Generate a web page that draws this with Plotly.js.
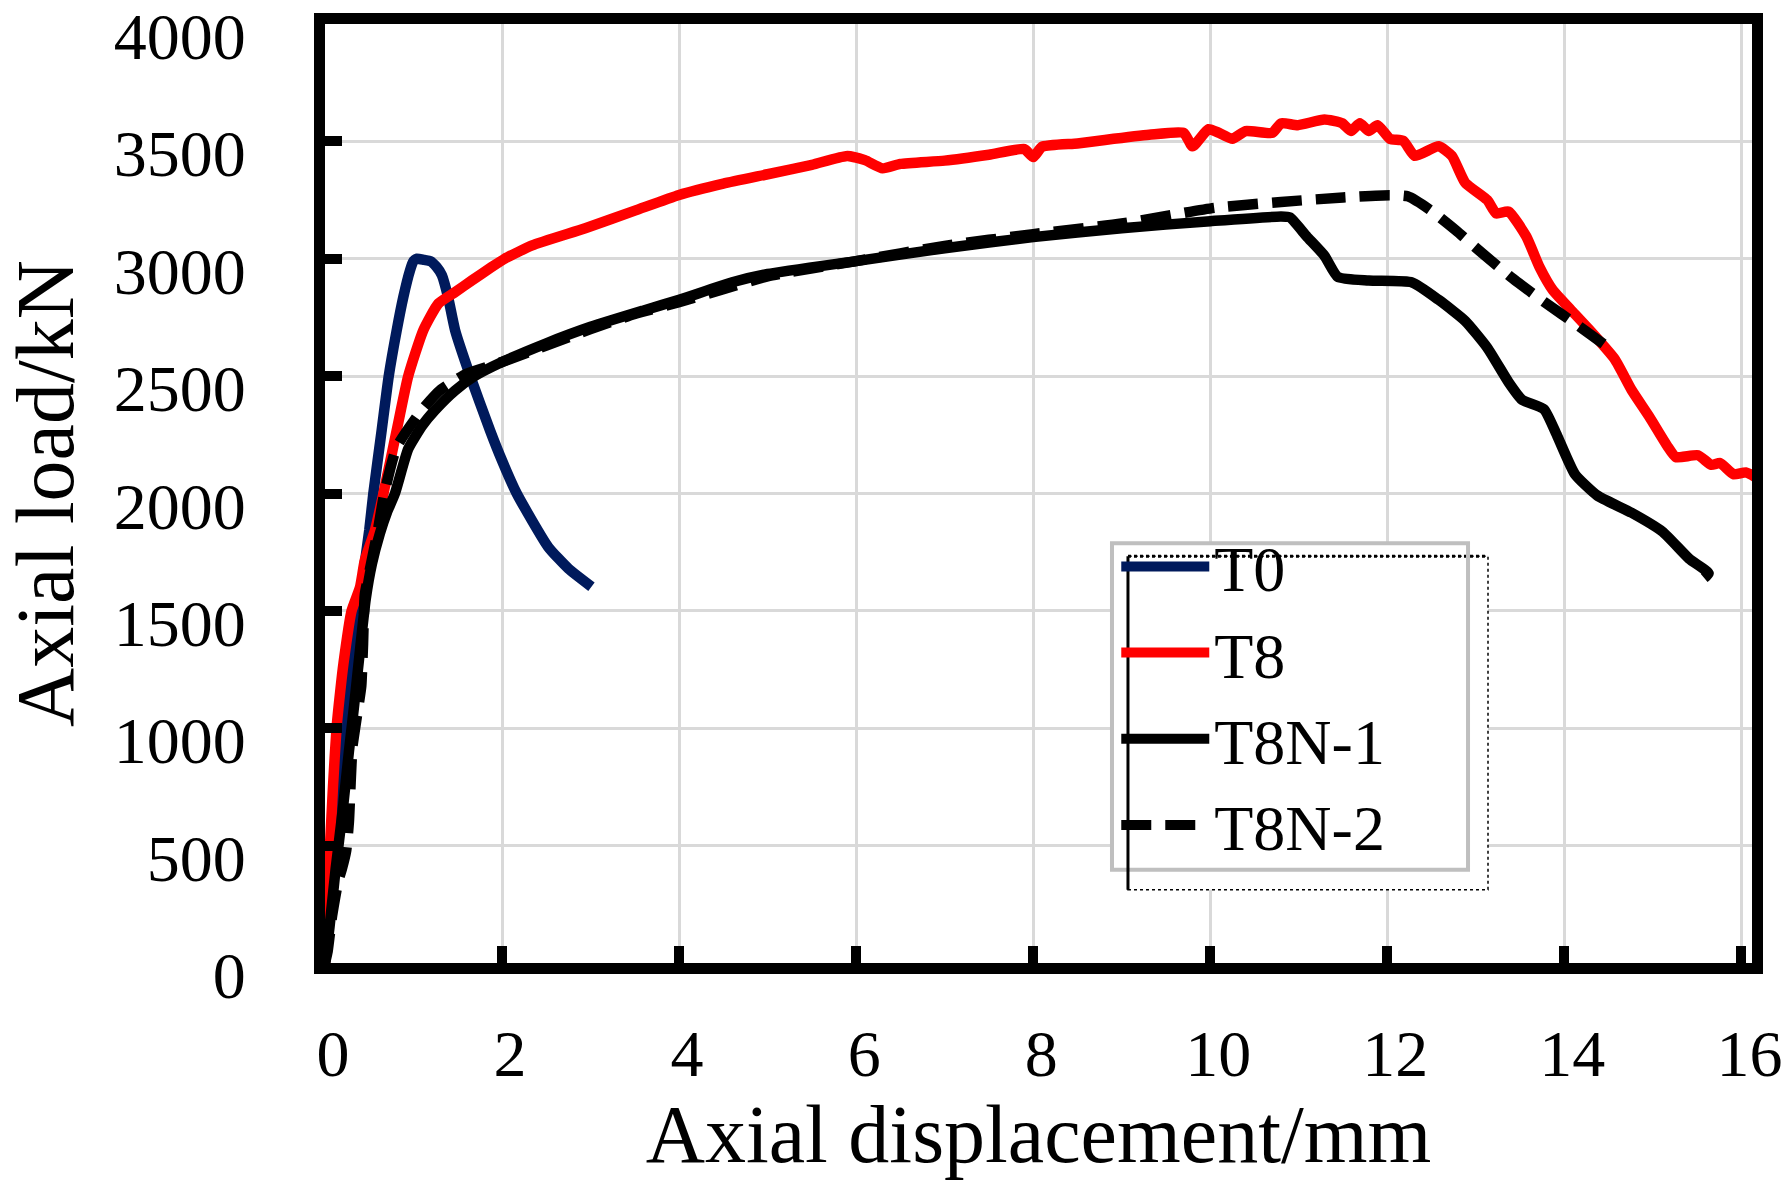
<!DOCTYPE html>
<html>
<head>
<meta charset="utf-8">
<script src="https://cdn.plot.ly/plotly-3.0.1.min.js"></script>
<style>
    html, body { margin: 0; padding: 0; background: #ffffff; }
    #chart { width: 1787px; height: 1180px; }
</style>
</head>
<body>
<div id="chart"></div>
<script>
// Curvas carga axial x deslocamento axial

const t0X = [0, 0.04, 0.13, 0.21, 0.29, 0.37, 0.41, 0.5, 0.546, 0.64, 0.72, 0.81, 0.885, 0.96, 1.0, 1.04,
    1.12, 1.19, 1.26, 1.32, 1.39, 1.47, 1.638, 1.864, 2.0, 2.166, 2.52, 2.75, 3.01];
const t0Y = [0, 150, 560, 1000, 1280, 1500, 1596, 1844, 2000, 2269, 2500, 2695, 2837, 2950, 2990, 3000,
    2995, 2990, 2965, 2930, 2837, 2695, 2503, 2269, 2140, 2000, 1773, 1680, 1603];

const t8X = [0, 0.01, 0.02, 0.056, 0.09, 0.13, 0.17, 0.21, 0.3, 0.395, 0.45, 0.565, 0.66, 0.81, 0.94, 1.11,
    1.28, 1.47, 1.66, 1.88, 2.03, 2.34, 2.94, 3.5, 4.0, 4.5, 5.0, 5.5, 5.9, 6.1, 6.3, 6.5, 7.0, 7.5, 7.9, 8.0,
    8.1, 8.5, 8.81, 9.31, 9.7, 9.8, 9.98, 10.1, 10.25, 10.4, 10.7, 10.8, 10.99, 11.29, 11.49, 11.59, 11.69,
    11.79, 11.89, 12.03, 12.18, 12.31, 12.58, 12.73, 12.88, 13.13, 13.23, 13.37, 13.57, 13.72, 13.87, 14.07,
    14.27, 14.57, 14.76, 14.96, 15.16, 15.26, 15.51, 15.66, 15.76, 15.91, 16.05, 16.18];
const t8Y = [0, 150, 300, 500, 750, 1000, 1150, 1280, 1500, 1600, 1716, 1844, 2000, 2269, 2500, 2695,
    2809, 2858, 2908, 2964, 3000, 3057, 3130, 3205, 3272, 3320, 3360, 3400, 3438, 3420, 3385, 3404, 3418, 3443, 3467, 3433,
    3477, 3491, 3506, 3528, 3536, 3479, 3552, 3536, 3511, 3544, 3536, 3577, 3569, 3593, 3577, 3544, 3577,
    3544, 3569, 3511, 3503, 3438, 3479, 3438, 3324, 3250, 3193, 3201, 3095, 2964, 2866, 2784,
    2703, 2572, 2441, 2327, 2204, 2155, 2163, 2122, 2130, 2082, 2090, 2065];

const t8n1X = [0, 0.05, 0.12, 0.2, 0.27, 0.33, 0.4, 0.46, 0.53, 0.62, 0.7, 0.79, 0.94, 1.1, 1.24, 1.47, 1.69,
    2.0, 2.5, 3.0, 3.6, 4.0, 4.6, 5.0, 6.0, 7.0, 8.0, 9.0, 10.0, 10.8, 10.9, 11.09, 11.29, 11.44, 11.79, 12.28,
    12.58, 12.88, 13.13, 13.37, 13.52, 13.77, 13.92, 14.12, 14.37, 14.76, 15.11, 15.41, 15.63, 15.58];
const t8n1Y = [0, 150, 400, 650, 900, 1100, 1350, 1550, 1700, 1830, 1920, 2000, 2190, 2290, 2354, 2439, 2500,
    2560, 2640, 2710, 2780, 2825, 2900, 2935, 2990, 3045, 3092, 3130, 3160, 3180, 3176, 3095, 3013, 2923, 2907, 2899,
    2825, 2735, 2621, 2474, 2400, 2359, 2245, 2082, 1992, 1918, 1837, 1722, 1660, 1640];

const t8n2X = [0, 0.03, 0.08, 0.15, 0.19, 0.24, 0.27, 0.29, 0.31, 0.34, 0.38, 0.41, 0.43, 0.45, 0.52, 0.6,
    0.67, 0.81, 1.09, 1.3, 1.6, 2.0, 2.5, 3.0, 3.5, 4.0, 4.5, 5.0, 6.0, 7.0, 8.0, 9.0, 10.05, 10.8, 11.5, 12.03,
    12.23, 12.48, 12.78, 13.08, 13.42, 13.77, 14.17, 14.47];
const t8n2Y = [0, 50, 200, 350, 400, 480, 600, 770, 920, 1000, 1100, 1180, 1360, 1570, 1700, 1850,
    2000, 2198, 2354, 2440, 2510, 2560, 2630, 2700, 2765, 2815, 2870, 2925, 2990, 3055, 3105, 3150, 3217, 3242, 3261, 3271,
    3266, 3209, 3119, 3021, 2915, 2817, 2711, 2629];

const nomes = ["T0", "T8", "T8N-1", "T8N-2"];
const cores = ["#001a5c", "#ff0000", "#000000", "#000000"];

const fonte = "Liberation Serif, Times New Roman, serif";

function curva(x, y, i, dash) {
    return {
        x: x,
        y: y,
        mode: "lines",
        name: nomes[i],
        line: { color: cores[i], width: 10.5, dash: dash || "solid", shape: "spline", smoothing: 0.5 },
        hoverinfo: "skip",
    };
}

const traces = [
    curva(t0X, t0Y, 0),
    curva(t8X, t8Y, 1),
    curva(t8n1X, t8n1Y, 2),
    curva(t8n2X, t8n2Y, 3, "30px,14px"),
];

const eixo = {
    showline: true,
    linecolor: "#000000",
    linewidth: 11,
    mirror: true,
    ticks: "inside",
    tickcolor: "#000000",
    tickwidth: 10,
    ticklen: 17,
    showgrid: true,
    gridcolor: "#d9d9d9",
    gridwidth: 3,
    zeroline: false,
    ticklabeloverflow: "allow",
    tickfont: { family: fonte, size: 66, color: "#000000" },
};

// caixa da legenda (borda cinza) e o retangulo pontilhado deslocado
const caixaX = [0.5515, 0.801];
const caixaY = [0.0993, 0.4471];
const pontX = [0.5627, 0.815];
const pontY = [0.078, 0.4333];

const layout = {
    width: 1787,
    height: 1180,
    paper_bgcolor: "#ffffff",
    plot_bgcolor: "#ffffff",
    margin: { l: 325, r: 35, t: 24, b: 217 },
    showlegend: true,
    xaxis: Object.assign({}, eixo, {
        range: [0, 16.12],
        dtick: 2,
        tick0: 0,
        ticklabelstandoff: 23,
        ticklabelshift: 8,
        title: { text: "Axial displacement/mm", font: { family: fonte, size: 82, color: "#000000" }, standoff: 6 },
    }),
    yaxis: Object.assign({}, eixo, {
        range: [0, 4000],
        dtick: 500,
        tick0: 0,
        ticklabelstandoff: 55,
        ticklabelshift: 12,
        title: { text: "Axial load/kN", font: { family: fonte, size: 82, color: "#000000" }, standoff: 18 },
    }),
    legend: {
        x: 0.5545,
        y: 0.4736,
        xanchor: "left",
        yanchor: "top",
        bgcolor: "rgba(0,0,0,0)",
        borderwidth: 0,
        font: { family: fonte, size: 64, color: "#000000" },
        itemwidth: 88,
        tracegroupgap: 0,
    },
    shapes: [
        {
            type: "rect", xref: "paper", yref: "paper",
            x0: caixaX[0], x1: pontX[1], y0: pontY[0], y1: caixaY[1],
            fillcolor: "#ffffff", line: { width: 0 }, layer: "above",
        },
        {
            type: "rect", xref: "paper", yref: "paper",
            x0: pontX[0], x1: pontX[1], y0: pontY[0], y1: pontY[1],
            fillcolor: "rgba(0,0,0,0)", line: { color: "#000000", width: 1.5, dash: "dot" }, layer: "above",
        },
        {
            type: "line", xref: "paper", yref: "paper",
            x0: pontX[0], x1: pontX[1], y0: pontY[1], y1: pontY[1],
            line: { color: "#000000", width: 3, dash: "dot" }, layer: "above",
        },
        {
            type: "rect", xref: "paper", yref: "paper",
            x0: caixaX[0], x1: caixaX[1], y0: caixaY[0], y1: caixaY[1],
            fillcolor: "rgba(0,0,0,0)", line: { color: "#bfbfbf", width: 4 }, layer: "above",
        },
        {
            type: "line", xref: "paper", yref: "paper",
            x0: pontX[0], x1: pontX[0], y0: pontY[0], y1: pontY[1],
            line: { color: "#000000", width: 3 }, layer: "above",
        },
    ],
};

Plotly.newPlot("chart", traces, layout, { displayModeBar: false, staticPlot: true });
</script>
</body>
</html>
